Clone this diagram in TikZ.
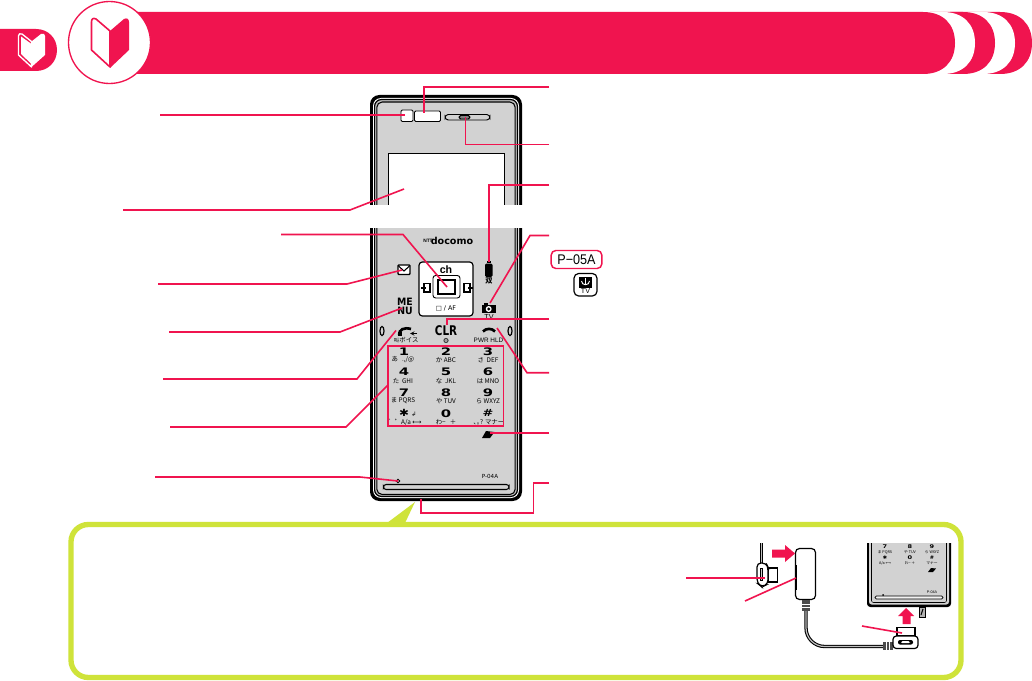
\documentclass[tikz,border=0pt]{standalone}
\usepackage{fontspec}
\setmainfont{Liberation Sans}
\newfontfamily\cjkfont{Noto Sans CJK JP}
\newfontfamily\widefont{DejaVu Sans}
\definecolor{crim}{HTML}{F0144F}
\definecolor{lime}{HTML}{CFE33A}
\definecolor{bodygray}{HTML}{D2D2D2}
\newcommand{\pxfont}[1]{\fontsize{#1}{#1}\selectfont}
\tikzset{
  lead/.style={draw=crim,line width=1.2pt},
  ink/.style={draw=black,line width=0.7pt},
  lab/.style={inner sep=0pt,outer sep=0pt,text=black,font=\pxfont{4.8}},
  jp/.style={inner sep=0pt,outer sep=0pt,text=black,font=\cjkfont\pxfont{4.8}},
  dig/.style={inner sep=0pt,outer sep=0pt,text=black,font=\widefont\bfseries\pxfont{7.4}},
  mini/.style={inner sep=0pt,outer sep=0pt,text=black,font=\pxfont{2.8}},
  minid/.style={inner sep=0pt,outer sep=0pt,text=black,font=\widefont\bfseries\pxfont{3.8}}
}
\begin{document}
\begin{tikzpicture}[x=0.75pt,y=-0.75pt]
\useasboundingbox (0,0) rectangle (1032,681);
\fill[white] (0,0) rectangle (1032,681);

% ---- header ----
\fill[crim] (0,29) -- (36,29) .. controls (48,29) and (57,38) .. (57,50) .. controls (57,62) and (48,71) .. (36,71) -- (0,71) -- cycle;
\fill[crim] (1000,12) .. controls (1020,12) and (1032,24) .. (1032,43) .. controls (1032,62) and (1020,74) .. (1000,74) -- (950,74) -- (950,12) -- cycle;
\fill[white] (983,12) .. controls (1003,12) and (1015,24) .. (1015,43) .. controls (1015,62) and (1003,74) .. (983,74) -- (940,74) -- (940,12) -- cycle;
\fill[crim] (963,12) .. controls (983,12) and (995,24) .. (995,43) .. controls (995,62) and (983,74) .. (963,74) -- (930,74) -- (930,12) -- cycle;
\fill[white] (943,12) .. controls (963,12) and (975,24) .. (975,43) .. controls (975,62) and (963,74) .. (943,74) -- (915,74) -- (915,12) -- cycle;
\fill[crim] (130,12) -- (923,12) .. controls (943,12) and (955,24) .. (955,43) .. controls (955,62) and (943,74) .. (923,74) -- (130,74) -- cycle;
\draw[crim,fill=white,line width=1pt] (109.5,42.5) circle (41);
% big badge
\fill[crim] (110,31) -- (124,19) .. controls (127,17.5) and (129,19) .. (129,22) -- (129,50) -- (110,68) -- cycle;
\draw[crim,fill=white,line width=1.2pt,line join=round] (110,31) -- (96,19) .. controls (93,17.5) and (91.5,19) .. (91.5,22) -- (91.5,50) -- (110,67) -- cycle;
% small badge
\fill[white] (31.5,41.5) -- (41,34) .. controls (43.5,33) and (45,34) .. (45,36) -- (45,55) -- (31.5,67) -- cycle;
\draw[white,line width=1pt,line join=round] (31.5,41.5) -- (22,34) .. controls (20,33) and (18.5,34) .. (18.5,36) -- (18.5,55) -- (31.5,67) -- cycle;
\fill[white] (31.5,44) -- (21,36.5) -- (21,54) -- (31.5,64) -- cycle;

% ---- phone body ----
\fill[black,rounded corners=7pt] (370,95) rectangle (522,501);
\fill[white,rounded corners=6pt] (373,98) rectangle (519,498);
\draw[black,line width=0.9pt,fill=gray!50,rounded corners=5pt] (374.6,99.6) rectangle (517.4,496.4);
\draw[black,line width=0.8pt,fill=bodygray,rounded corners=4pt] (376.8,102) rectangle (515.2,494.5);
% screen and upper parts
\draw[ink,fill=white] (388.5,153.5) rectangle (504.5,212);
\draw[ink,fill=white,rounded corners=1pt] (401,110) rectangle (413,121.5);
\draw[ink,fill=white,rounded corners=1pt] (414.5,111) rectangle (440.5,121.5);
\draw[ink,fill=bodygray,rounded corners=2.5pt] (445,114.5) rectangle (490,120);
\draw[ink,fill=gray,rounded corners=1.2pt] (459,115.5) rectangle (470,119);
% white gap across phone
\fill[white] (365,205) rectangle (527,228);

% logo
\node[inner sep=0pt,font=\pxfont{3.6}\bfseries] (logoA) at (428,241) {NTT};
\node[inner sep=0pt,font=\widefont\bfseries\pxfont{7.2}] (logoB) at (452,241) {docomo};

% nav pad
\draw[black,line width=0.9pt,fill=white,rounded corners=2.5pt] (419,262) rectangle (473,316);
\draw[ink,fill=white,rounded corners=2pt] (433,275.5) rectangle (460,298);
\draw[black,line width=0.9pt,fill=white] (438,280) rectangle (455,294);
\node[inner sep=0pt,font=\bfseries\pxfont{8}] (navch) at (446,270) {ch};
\node[lab] (navaf) at (446,308.5) {\rule{0pt}{3pt}\widefont□\pxfont{4.8} / AF};
\draw[black,line width=0.8pt] (424,283.5) rectangle (430,292);
\draw[black,line width=0.8pt] (421,288) -- (426,288);
\draw[black,line width=0.8pt] (464,283.5) rectangle (470,292);
\draw[black,line width=0.8pt] (468,288) -- (473,288);

% mail
\draw[black,line width=1.1pt,fill=white,rounded corners=0.6pt] (398,265) rectangle (410,274.5);
\draw[black,line width=0.8pt] (398.5,266) -- (404,271) -- (409.5,266);
% menu
\node[inner sep=0pt,font=\widefont\bfseries\pxfont{7.6}] (menuA) at (405,301.5) {\scalebox{0.92}[1]{ME}};
\node[inner sep=0pt,font=\widefont\bfseries\pxfont{7.6}] (menuB) at (405,311) {\scalebox{0.92}[1]{NU}};
% mobile TV antenna icon
\fill[black,rounded corners=1pt] (485,263.5) rectangle (492.5,277);
\fill[black] (486.5,261) rectangle (491,263);
\node[jp,font=\cjkfont\bfseries\pxfont{5.4}] (iconAnt) at (489,281.5) {双};
% camera
\fill[black] (482,305) rectangle (495.5,313);
\fill[black] (484,302.5) rectangle (488,306);
\fill[white] (488.7,309) circle (3);
\fill[black] (488.7,309) circle (1.6);
\node[lab,font=\pxfont{5.4}] (camTV) at (489,317.5) {TV};

% side ovals
\draw[black,line width=0.9pt] (382,331) ellipse (2 and 4.6);
\draw[black,line width=0.9pt] (510,331) ellipse (2 and 4.6);

% call keys
\draw[black,line width=2pt] (399,335) .. controls (399,329.5) and (404,327) .. (411,329);
\fill[black] (397.8,332) rectangle (402,336);
\draw[black,line width=0.5pt,->,>=stealth] (417,333.5) -- (410,333.5);
\node[lab,font=\widefont\bfseries\pxfont{10}] (clr) at (446,330.5) {\scalebox{0.78}[1]{CLR}};
\fill[black!75] (446,340.5) circle (2.6);
\draw[white,line width=0.3pt] (446,340.5) circle (1.2);
\draw[black,line width=2pt] (483,331.5) .. controls (486,328) and (492,328) .. (495,331.5);
\node[jp] (callA) at (396.5,340.3) {\pxfont{4}叫};
\node[jp] (callB) at (409,340.3) {ボイス};
\node[lab,font=\pxfont{4.8}] (pwr) at (488.5,340.5) {PWR HLD};

% keypad
\foreach \n/\t/\px/\py in {k1/1/404/351.5,k2/2/446/351.5,k3/3/488/351.5,k4/4/404/371.7,k5/5/446/371.7,k6/6/488/371.7,k7/7/404/392.3,k8/8/446/392.3,k9/9/488/392.3,k0/0/446/413.3}
  {\node[dig] (\n) at (\px,\py) {\scalebox{1.5}[1.05]{\t}};}
\node[dig] (kstar) at (404,413.3) {\scalebox{1.2}[1]{✱}};
\node[dig] (khash) at (488,413.3) {\scalebox{1.3}[1]{\#}};
\node[lab,font=\widefont\pxfont{4.6}] (kenter) at (414,414) {↲};
\node[jp] (s1) at (403,360) {あ\hspace{3pt}.,/@};
\node[jp] (s2) at (446,360) {か ABC};
\node[jp] (s3) at (488,360) {さ\hspace{2pt}DEF};
\node[jp] (s4) at (403,380.7) {た\hspace{2pt}GHI};
\node[jp] (s5) at (446,380.7) {な\hspace{2pt}JKL};
\node[jp] (s6) at (488,380.7) {は MNO};
\node[jp] (s7) at (403,401) {ま PQRS};
\node[jp] (s8) at (446,401) {や\hspace{1pt}TUV};
\node[jp] (s9) at (488,401) {ら WXYZ};
\node[jp] (s10) at (405,422) {゛゜A/a {\widefont ⟷}};
\node[jp] (s11) at (446,422) {わ−\hspace{3pt}＋};
\node[jp] (s12) at (489,422) {､｡? マナー};
\draw[crim,line width=1.4pt] (388,346) rectangle (503.5,426);
\coordinate (keypadEdge) at (388,385);

% ink icon, light, model, slot
\fill[black] (482,438) -- (490,438) -- (494.5,432) -- (486,431) -- cycle;
\draw[ink,fill=white] (398,479.3) -- (399.7,481) -- (398,482.7) -- (396.3,481) -- cycle;
\node[lab,font=\widefont\pxfont{4.2}] (model) at (490,476) {P-04A};
\draw[black,line width=0.8pt,fill=bodygray,rounded corners=2pt] (383.5,484.5) rectangle (509,489.5);

% model tag
\node[draw=crim,line width=1.1pt,rounded corners=3.5pt,fill=white,minimum width=38pt,minimum height=13.5pt,inner sep=0pt,font=\pxfont{10.5}] (tag) at (576.5,259.5) {\scalebox{0.9}[1]{P−05A}};
\draw[black,line width=0.9pt,fill=white,rounded corners=3.5pt] (574,273.5) rectangle (597,296);
\fill[black] (579,277) rectangle (592,288);
\draw[white,line width=1pt] (585.5,278) -- (585.5,284);
\draw[white,line width=0.7pt] (581.5,281) .. controls (581.5,286) and (589.5,286) .. (589.5,281);
\node[lab,font=\pxfont{5.4}] (tagTV) at (585.5,291.5) {TV};

% ---- green box ----
\draw[lime,line width=4pt,fill=white,rounded corners=13pt] (71,524.5) rectangle (961,677.5);
\fill[lime] (415,502) -- (387,523) -- (405,523) -- cycle;

% ---- leaders ----
\coordinate (a1) at (160,115.3); \coordinate (a2) at (405,115.3);
\coordinate (b1) at (549,87); \coordinate (b2) at (424,87); \coordinate (b3) at (424,113);
\coordinate (c1) at (549,144.5); \coordinate (c2) at (465.5,144.5); \coordinate (c3) at (465.5,117);
\coordinate (d1) at (123,210); \coordinate (d2) at (350,210); \coordinate (d3) at (404,189);
\coordinate (e1) at (549,185); \coordinate (e2) at (489,185); \coordinate (e3) at (489,262);
\coordinate (f1) at (281,234.5); \coordinate (f2) at (403,234.5); \coordinate (f3) at (447,287);
\coordinate (g1) at (158,284); \coordinate (g2) at (347,284); \coordinate (g3) at (402,270);
\coordinate (h1) at (169,332); \coordinate (h2) at (340,332); \coordinate (h3) at (402,308);
\coordinate (i1) at (163,379); \coordinate (i2) at (357,379); \coordinate (i3) at (396,330.5);
\coordinate (j1) at (170,427); \coordinate (j2) at (346,427);
\coordinate (l1) at (155,477); \coordinate (l2) at (360,477); \coordinate (l3) at (398,481);
\coordinate (m1) at (549,235.5); \coordinate (m2) at (530,235.5); \coordinate (m3) at (490,303);
\coordinate (n1) at (549,319); \coordinate (n2) at (447,319); \coordinate (n3) at (447,325);
\coordinate (o1) at (549,372.7); \coordinate (o2) at (527,372.7); \coordinate (o3) at (497,328);
\coordinate (p1) at (549,432.7); \coordinate (p2) at (490,432.7);
\coordinate (q1) at (549,482.7); \coordinate (q2) at (533.5,482.7); \coordinate (q3) at (533.5,513); \coordinate (q4) at (421,513); \coordinate (q5) at (421,499);
\draw[lead] (a1) -- (a2);
\draw[lead] (b1) -- (b2) -- (b3);
\draw[lead] (c1) -- (c2) -- (c3);
\draw[lead] (d1) -- (d2) -- (d3);
\draw[lead] (e1) -- (e2) -- (e3);
\draw[lead] (f1) -- (f2) -- (f3);
\draw[lead] (g1) -- (g2) -- (g3);
\draw[lead] (h1) -- (h2) -- (h3);
\draw[lead] (i1) -- (i2) -- (i3);
\draw[lead] (j1) -- (j2) -- (keypadEdge);
\draw[lead] (l1) -- (l2) -- (l3);
\draw[lead] (m1) -- (m2) -- (m3);
\draw[lead] (n1) -- (n2) -- (n3);
\draw[lead] (o1) -- (o2) -- (o3);
\draw[lead] (p1) -- (p2);
\draw[lead] (q1) -- (q2) -- (q3) -- (q4) -- (q5);

% ---- charger inset ----
% mini phone
\fill[black] (867,543) [rounded corners=2.5pt] -- (867,607) -- (951,607) [sharp corners] -- (951,543) -- cycle;
\fill[bodygray] (869,543) [rounded corners=2pt] -- (869,604.5) -- (949,604.5) [sharp corners] -- (949,543) -- cycle;
\draw[black,line width=0.4pt] (871.5,543) [rounded corners=1.5pt] -- (871.5,602.5) -- (946.5,602.5) [sharp corners] -- (946.5,543);
\draw[black,line width=0.5pt,fill=white!70!bodygray,rounded corners=1pt] (875,596) rectangle (943,599);
\foreach \n/\t/\px/\py in {m7/7/885/547,m8/8/910/547,m9/9/932/547,m0/0/910/558}
  {\node[minid] (\n) at (\px,\py) {\scalebox{1.3}[1]{\t}};}
\node[minid] (mstar) at (885,558) {✱};
\node[minid] (mhash) at (932,558) {\#};
\node[mini,font=\cjkfont\pxfont{2.8}] (ms7) at (885,552) {ま PQRS};
\node[mini,font=\cjkfont\pxfont{2.8}] (ms8) at (910,552) {や TUV};
\node[mini,font=\cjkfont\pxfont{2.8}] (ms9) at (932,552) {ら WXYZ};
\node[mini,font=\cjkfont\pxfont{2.8}] (ms10) at (885,563.5) {A/a {\widefont ⟷}};
\node[mini,font=\cjkfont\pxfont{2.8}] (ms11) at (910,563.5) {わ− ＋};
\node[mini,font=\cjkfont\pxfont{2.8}] (ms12) at (932,563.5) {マナー};
\fill[black] (928,572) -- (933,572) -- (936,568.5) -- (931,568) -- cycle;
\fill[black] (883,595) circle (1);
\node[mini] (mmodel) at (932,592.5) {P-04A};
% port stub
\draw[black,line width=0.5pt,fill=gray!60] (919,607) -- (925,607) -- (925,617) -- (919,617) -- cycle;
\draw[black,line width=0.8pt] (923,609) -- (921,615);
% charger cable & adapter
\draw[black,line width=0.9pt,double=gray!50,double distance=0.9pt] (761.5,543) -- (761.5,563);
\draw[black,line width=0.9pt,fill=white] (768,568) rectangle (777.5,582);
\draw[black,line width=0.9pt,fill=white,rounded corners=3pt] (757,563) -- (766,563) -- (768,567) -- (768,584) -- (762,587) -- (757,583) -- cycle;
\draw[black,line width=0.5pt,fill=gray!40] (760,568) rectangle (762,580);
\draw[black,line width=0.9pt,fill=white,rounded corners=3pt] (795.5,548.5) rectangle (815.5,599.5);
\fill[black] (795.5,565) rectangle (797,590);
\draw[black,line width=0.8pt,double=gray!50,double distance=0.9pt,rounded corners=14pt] (806,611) -- (806,646.5) -- (883,646.5);
\fill[black!70] (802,600) rectangle (810,611);
\draw[white,line width=0.4pt] (802,604) -- (810,604) (802,607) -- (810,607);
\fill[black!70] (883,642) rectangle (893,650);
\draw[white,line width=0.4pt] (886,642) -- (886,650) (889,642) -- (889,650);
\draw[black,line width=0.9pt,fill=white] (897,627.5) rectangle (915,636);
\draw[black,line width=0.9pt,fill=white,rounded corners=2.5pt] (893,636) rectangle (918,648.5);
\fill[black,rounded corners=1.5pt] (898,640) rectangle (913,644.5);
\fill[white,rounded corners=1pt] (901,641.2) rectangle (910,643.2);
% block arrows
\fill[crim] (772,549.5) -- (785,549.5) -- (785,545) -- (795,553.5) -- (785,562) -- (785,557.5) -- (772,557.5) -- cycle;
\fill[crim] (902.5,624) -- (902.5,616) -- (898,616) -- (906,608) -- (914,616) -- (910.5,616) -- (910.5,624) -- cycle;
% inset leaders
\coordinate (r1) at (686,577.7); \coordinate (r2) at (765,577.7);
\coordinate (s1end) at (745,601); \coordinate (s2end) at (796,578);
\coordinate (t1) at (862,626); \coordinate (t2) at (902,633);
\draw[lead] (r1) -- (r2);
\draw[lead] (s1end) -- (s2end);
\draw[lead] (t1) -- (t2);
\end{tikzpicture}
\end{document}
